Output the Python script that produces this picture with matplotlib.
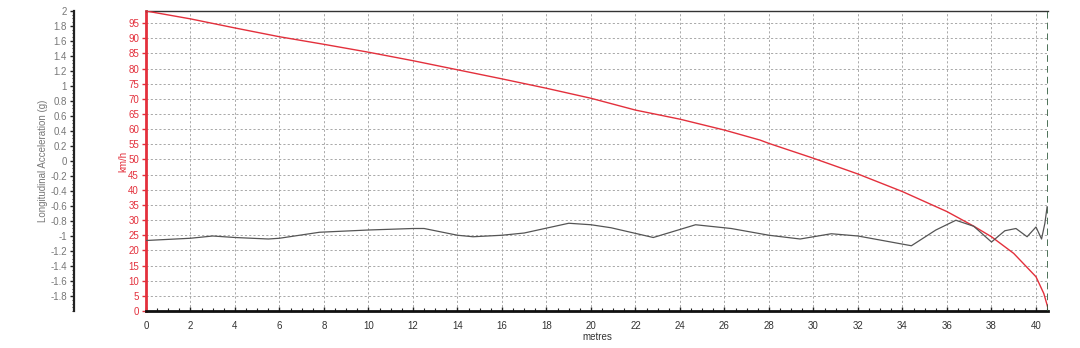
import matplotlib
matplotlib.use("Agg")
import matplotlib.pyplot as plt
import numpy as np
from matplotlib.ticker import MultipleLocator

plt.rcParams['font.family'] = ['Liberation Sans', 'DejaVu Sans']

# Speed trace (km/h) vs distance (m)
dist_speed = [0, 2, 4, 6, 8, 10, 12, 14, 16, 18, 20, 22, 24, 26, 27.6, 28, 30, 32,
              34, 36, 37.2, 38, 39, 40, 40.35, 40.5, 40.54]
speed = [99, 96.4, 93.4, 90.5, 88, 85.4, 82.6, 79.6, 76.6, 73.5, 70.2, 66.3, 63.3,
         59.7, 56.4, 55.3, 50.4, 45.2, 39.4, 32.8, 28, 24.5, 19, 11.3, 5.8, 2, 0.8]

# Longitudinal acceleration (g) vs distance (m)
dist_acc = [0, 2, 3, 4, 5.5, 6, 7.8, 10, 12, 12.5, 14, 14.7, 16, 17, 19, 20, 20.9,
            22.8, 24.7, 26.3, 28, 29.4, 30.8, 32, 34.4, 35.5, 36.4, 37.2, 38.0, 38.6,
            39.1, 39.6, 40.0, 40.25, 40.4, 40.5]
acc = [-1.06, -1.03, -1.0, -1.02, -1.04, -1.03, -0.95, -0.92, -0.90, -0.90, -0.99,
       -1.01, -0.99, -0.96, -0.83, -0.85, -0.89, -1.02, -0.85, -0.90, -0.99, -1.04,
       -0.97, -1.0, -1.13, -0.92, -0.79, -0.87, -1.08, -0.93, -0.90, -1.01, -0.88,
       -1.04, -0.83, -0.61]

x_ticks = list(range(0, 41, 2))
speed_ticks = list(range(0, 96, 5))
acc_ticks = [round(v, 1) + 0.0 for v in np.arange(-1.8, 2.01, 0.2)]
acc_labels = ['0' if abs(v) < 1e-9 else ('%g' % v) for v in acc_ticks]

RED = '#e3303c'
GRAY = '#777777'
GRID = '#a8a8a8'

fig = plt.figure(figsize=(10.8, 3.48), dpi=100)
ax = fig.add_axes([146/1080, 1 - 311/348, (1048-146)/1080, (311-11)/348])

ax.set_xlim(0, 40.54)
ax.set_ylim(0, 99)

# grid
for xv in x_ticks:
    ax.axvline(xv, color=GRID, lw=0.7, ls=(0, (2.2, 2.2)), zorder=0)
for yv in speed_ticks[1:]:
    ax.axhline(yv, color=GRID, lw=0.7, ls=(0, (2.2, 2.2)), zorder=0)

ax.plot(dist_speed, speed, color=RED, lw=1.0, zorder=3)

ax.set_xticks(x_ticks)
ax.set_xticklabels([str(v) for v in x_ticks], fontsize=7, color='#333333')
ax.xaxis.set_minor_locator(MultipleLocator(0.5))
ax.tick_params(axis='x', which='major', direction='in', length=3, width=1, pad=7, color='#222222')
ax.tick_params(axis='x', which='minor', direction='in', length=2, width=0.8, color='#222222')

ax.set_yticks(speed_ticks)
ax.set_yticklabels([str(v) for v in speed_ticks], fontsize=7, color=RED)
ax.tick_params(axis='y', which='major', direction='out', length=3, width=1, pad=2, color=RED)

ax.spines['left'].set_color(RED)
ax.spines['left'].set_linewidth(2)
ax.spines['bottom'].set_color('#111111')
ax.spines['bottom'].set_linewidth(2)
ax.spines['top'].set_color('#333333')
ax.spines['top'].set_linewidth(1)
ax.spines['right'].set_visible(False)
ax.axvline(40.54, color='#2f5a3c', lw=1.2, ls=(0, (4, 2.5)), zorder=4)

ax.set_ylabel('km/h', color=RED, fontsize=7)
ax.yaxis.set_label_coords(-0.019, 0.5)
ax.set_xlabel('metres', fontsize=7, color='#333333', labelpad=1)

# acceleration axis
ax2 = ax.twinx()
ax2.set_ylim(-2, 2)
ax2.plot(dist_acc, acc, color='#555555', lw=0.9, zorder=3)
ax2.yaxis.set_label_position('left')
ax2.yaxis.set_ticks_position('left')
ax2.spines['left'].set_position(('axes', -(146-74)/902))
ax2.spines['left'].set_color('#222222')
ax2.spines['left'].set_linewidth(1.6)
for s in ['right', 'top', 'bottom']:
    ax2.spines[s].set_visible(False)
ax2.set_yticks(acc_ticks)
ax2.set_yticklabels(acc_labels, fontsize=7, color=GRAY)
ax2.yaxis.set_minor_locator(MultipleLocator(0.05))
ax2.tick_params(axis='y', which='major', direction='out', length=3, width=1, pad=2, color='#222222')
ax2.tick_params(axis='y', which='minor', direction='out', length=1.5, width=0.6, color='#222222')
ax2.set_ylabel('Longitudinal Acceleration (g)', fontsize=7, color=GRAY)
ax2.yaxis.set_label_coords(-0.109, 0.5)

fig.savefig('out.png', dpi=100)
